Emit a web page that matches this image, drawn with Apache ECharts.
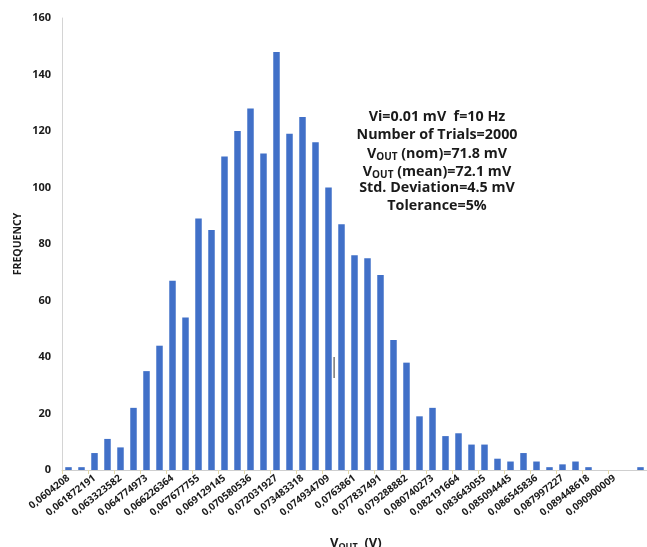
<!DOCTYPE html>
<html>
<head>
<meta charset="utf-8">
<script src="https://cdn.jsdelivr.net/npm/echarts@6/dist/echarts.min.js"></script>
<style>
  html, body { margin: 0; padding: 0; background: #fff; }
  #chart { width: 647px; height: 547px; }
</style>
</head>
<body>
<div id="chart"></div>
<script>
// bin centres (V) - only every other one is printed on the axis
const bins = [
  '0,0604208', '0,061146496', '0,061872191', '0,062597887', '0,063323582',
  '0,064049278', '0,064774973', '0,065500669', '0,066226364', '0,06695206',
  '0,067677755', '0,06840345', '0,069129145', '0,069854841', '0,070580536',
  '0,071306232', '0,072031927', '0,072757623', '0,073483318', '0,074209014',
  '0,074934709', '0,075660405', '0,0763861', '0,077111796', '0,077837491',
  '0,078563187', '0,079288882', '0,080014578', '0,080740273', '0,081465968',
  '0,082191664', '0,082917359', '0,083643055', '0,08436875', '0,085094445',
  '0,085820141', '0,086545836', '0,087271532', '0,087997227', '0,088722923',
  '0,089448618', '0,090174314', '0,090900009', '0,091625705', '0,0923514'
]

// frequency per bin
const frequency = [
  1, 1, 6, 11, 8, 22, 35, 44, 67, 54,
  89, 85, 111, 120, 128, 112, 148, 119, 125, 116,
  100, 87, 76, 75, 69, 46, 38, 19, 22, 12,
  13, 9, 9, 4, 3, 6, 3, 1, 2, 3,
  1, 0, 0, 0, 1
]

const yTicks = { min: 0, max: 160, interval: 20 }

const notes = [
  'Vi=0.01 mV  f=10 Hz',
  'Number of Trials=2000',
  '{n|V}{s|OUT}{n| (nom)=71.8 mV}',
  '{n|V}{s|OUT}{n| (mean)=72.1 mV}',
  'Std. Deviation=4.5 mV',
  'Tolerance=5%'
]

const FONT = '"Open Sans", Lato, sans-serif'
const TXT = '#1a1a1a'

var chart = echarts.init(document.getElementById('chart'))

var noteGraphics = notes.map((line, i) => ({
  type: 'text',
  x: 437,
  y: 110 + i * 17.8,
  style: {
    text: line,
    textAlign: 'center',
    fontFamily: FONT,
    fontWeight: 'bold',
    fontSize: 14.3,
    fill: TXT,
    rich: {
      n: { fontFamily: FONT, fontWeight: 'bold', fontSize: 14.3, color: TXT },
      s: { fontFamily: FONT, fontWeight: 'bold', fontSize: 10, color: TXT, padding: [7, 0, 0, 0] }
    }
  }
}))

chart.setOption({
  animation: false,
  backgroundColor: '#fff',
  grid: { left: 62, right: 0, top: 18, bottom: 77 },
  xAxis: {
    type: 'category',
    data: bins,
    axisLine: { lineStyle: { color: '#cfcfcf', width: 1 } },
    axisTick: { show: true, length: 4, lineStyle: { color: '#e2d7a8' } },
    axisLabel: {
      interval: (i) => i % 2 === 0 && i < 44,
      rotate: 38,
      margin: 7,
      fontFamily: FONT,
      fontWeight: 'bold',
      fontSize: 10,
      color: TXT
    }
  },
  yAxis: {
    type: 'value',
    min: yTicks.min,
    max: yTicks.max,
    interval: yTicks.interval,
    splitLine: { show: false },
    axisLine: { show: true, lineStyle: { color: '#d4d4d4' } },
    axisTick: { show: false },
    axisLabel: {
      margin: 11,
      fontFamily: FONT,
      fontWeight: 'bold',
      fontSize: 11,
      color: TXT
    }
  },
  series: [{
    type: 'bar',
    data: frequency,
    barWidth: '50%',
    itemStyle: { color: '#4170c8' }
  }],
  graphic: noteGraphics.concat([
    {
      type: 'text',
      x: 18,
      y: 244,
      rotation: Math.PI / 2,
      style: {
        text: 'FREQUENCY',
        textAlign: 'center',
        textVerticalAlign: 'middle',
        fontFamily: FONT,
        fontWeight: 'bold',
        fontSize: 10.5,
        fill: TXT
      }
    },
    {
      type: 'text',
      x: 330,
      y: 536,
      style: {
        text: '{n|V}{s|OUT}{n|  (V)}',
        fontFamily: FONT,
        fill: TXT,
        rich: {
          n: { fontFamily: FONT, fontWeight: 'bold', fontSize: 13, color: TXT },
          s: { fontFamily: FONT, fontWeight: 'bold', fontSize: 9, color: TXT, padding: [6, 0, 0, 0] }
        }
      }
    },
    {
      type: 'rect',
      shape: { x: 333.5, y: 357, width: 1.2, height: 21 },
      style: { fill: '#555' }
    }
  ])
})
</script>
</body>
</html>
